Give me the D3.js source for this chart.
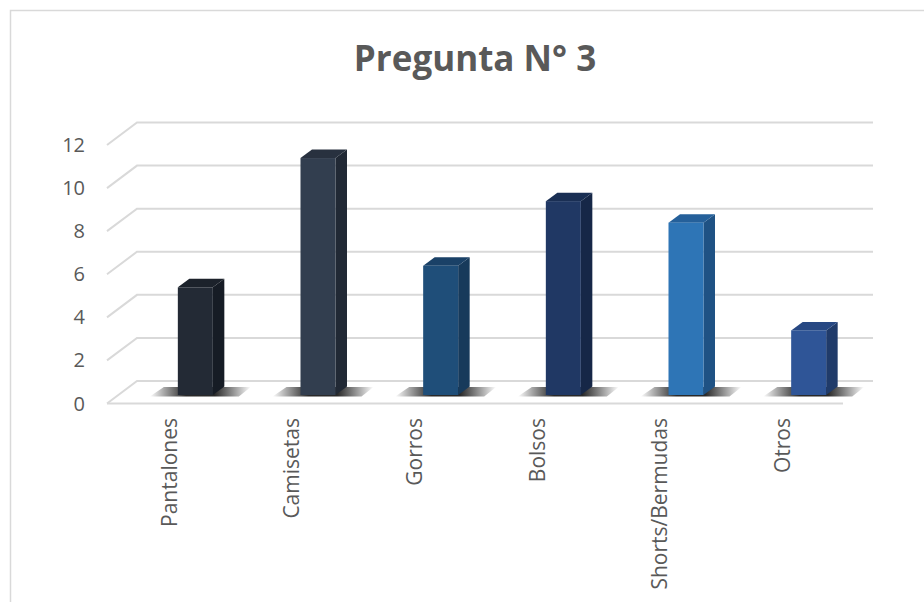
<!DOCTYPE html>
<html>
<head>
<meta charset="utf-8">
<script src="https://cdn.jsdelivr.net/npm/d3@7"></script>
<style>
  body { margin: 0; background: #fff; }
  svg text { font-family: "Open Sans", sans-serif; fill: #595959; }
</style>
</head>
<body>
<div id="chart"></div>
<script>
var categories = ["Pantalones", "Camisetas", "Gorros", "Bolsos", "Shorts/Bermudas", "Otros"];
var values = [5, 11, 6, 9, 8, 3];
var yTicks = [0, 2, 4, 6, 8, 10, 12];
var chartTitle = "Pregunta N° 3";

// front / side / top colours for each bar
var faceFront = ["#232a35", "#323e4f", "#1f4e79", "#203864", "#2e75b6", "#2f5597"];
var faceSide  = ["#161c25", "#212935", "#173a5b", "#162747", "#1f5284", "#203b6a"];
var faceTop   = ["#1c222b", "#28313f", "#1a4167", "#1a2f54", "#25609a", "#274883"];

var fullWidth = 924;
var fullHeight = 602;

// oblique offset between back wall and front edge of the floor
var depthX = -30, depthY = 22.5;
// bar depth
var barDX = 11.5, barDY = -8.5;
var barW = 35;
var barFloor = 14; // how far in front of back wall the bar base sits (y px)

var svg = d3.select("#chart")
            .append("svg")
            .attr("width", fullWidth)
            .attr("height", fullHeight);

var defs = svg.append("defs");
var shade = defs.append("linearGradient").attr("id", "shadow");
shade.append("stop").attr("offset", "0%").attr("stop-color", "#000").attr("stop-opacity", 0);
shade.append("stop").attr("offset", "36%").attr("stop-color", "#111").attr("stop-opacity", 0.9);
shade.append("stop").attr("offset", "64%").attr("stop-color", "#111").attr("stop-opacity", 0.9);
shade.append("stop").attr("offset", "100%").attr("stop-color", "#000").attr("stop-opacity", 0);

// chart border
svg.append("rect")
   .attr("x", 10.5).attr("y", 10.5)
   .attr("width", 940).attr("height", 620)
   .attr("fill", "none")
   .attr("stroke", "#d9d9d9")
   .attr("stroke-width", 1.5);

var xScale = d3.scaleBand().domain(categories).range([134, 870]);
var yScale = d3.scaleLinear().domain([0, 12]).range([381, 122.5]);
var backLeft = 137, backRight = 873;

// title
svg.append("text")
   .attr("x", 475).attr("y", 71)
   .attr("text-anchor", "middle")
   .style("font-size", "35px")
   .style("font-weight", "bold")
   .text(chartTitle);

// gridlines: back wall + left diagonal
var grid = svg.append("g");
yTicks.forEach(function(t){
  var y = yScale(t);
  grid.append("path")
      .attr("d", "M" + (backLeft + depthX) + "," + (y + depthY) + "L" + backLeft + "," + y + "L" + backRight + "," + y)
      .attr("fill", "none")
      .attr("stroke", "#d9d9d9")
      .attr("stroke-width", 2);
});
// floor front edge
grid.append("line")
    .attr("x1", backLeft + depthX).attr("x2", backRight + depthX)
    .attr("y1", yScale(0) + depthY).attr("y2", yScale(0) + depthY)
    .attr("stroke", "#d9d9d9")
    .attr("stroke-width", 2);

// y tick labels
svg.append("g").selectAll("text")
   .data(yTicks)
   .enter().append("text")
   .attr("x", 85)
   .attr("y", function(d){ return yScale(d) + depthY; })
   .attr("dy", "0.35em")
   .attr("text-anchor", "end")
   .style("font-size", "20px")
   .text(function(d){ return d; });

var bars = svg.append("g");
var base = yScale(0) + barFloor;
var unit = yScale(0) - yScale(1);

categories.forEach(function(c, i){
  var cx = xScale(c) + xScale.bandwidth() / 2;
  var x0 = cx - barW / 2, x1 = cx + barW / 2;
  var top = base - values[i] * unit;

  // floor shadow
  bars.append("path")
      .attr("d", "M" + (x0 - 28) + "," + (base + 1.5) + "L" + (x1 + 26) + "," + (base + 1.5) +
                 "L" + (x1 + 38) + "," + (base - 8) + "L" + (x0 - 14) + "," + (base - 8) + "Z")
      .attr("fill", "url(#shadow)");

  // side face
  bars.append("path")
      .attr("d", "M" + x1 + "," + base + "L" + (x1 + barDX) + "," + (base + barDY) +
                 "L" + (x1 + barDX) + "," + (top + barDY) + "L" + x1 + "," + top + "Z")
      .attr("fill", faceSide[i]);
  // top face
  bars.append("path")
      .attr("d", "M" + x0 + "," + top + "L" + x1 + "," + top +
                 "L" + (x1 + barDX) + "," + (top + barDY) + "L" + (x0 + barDX) + "," + (top + barDY) + "Z")
      .attr("fill", faceTop[i]);
  // front face
  bars.append("rect")
      .attr("x", x0).attr("y", top)
      .attr("width", barW).attr("height", base - top)
      .attr("fill", faceFront[i]);
});

// category labels, rotated
svg.append("g").selectAll("text")
   .data(categories)
   .enter().append("text")
   .attr("transform", function(d){
     var x = xScale(d) + xScale.bandwidth() / 2 - 26;
     return "translate(" + x + ",418) rotate(-90)";
   })
   .attr("dy", "0.35em")
   .attr("text-anchor", "end")
   .style("font-size", "21px")
   .text(function(d){ return d; });
</script>
</body>
</html>
